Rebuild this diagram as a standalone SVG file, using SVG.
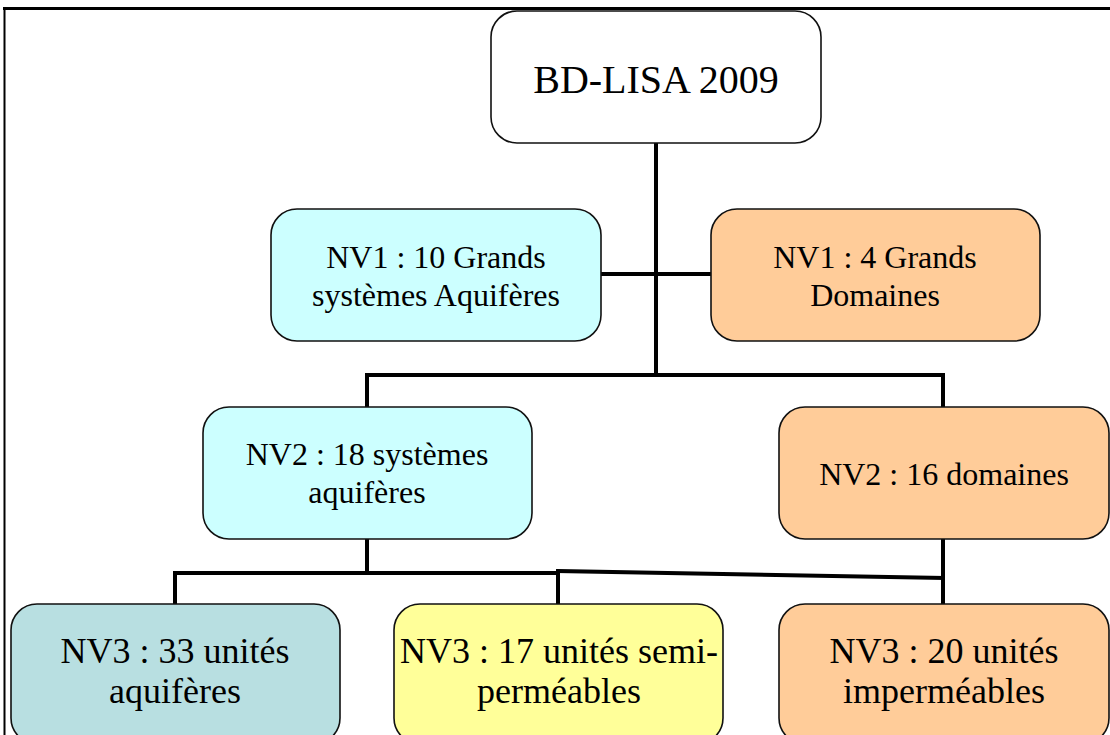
<svg xmlns="http://www.w3.org/2000/svg" width="1110" height="735" viewBox="0 0 1110 735">
<style>
.box{stroke:#111;stroke-width:1.6}
.t{font-family:"Liberation Serif","Times New Roman",serif;fill:#000;text-anchor:middle}
.m{font-size:32px}
.l{font-size:36px}
.c{stroke:#000;stroke-width:4;fill:none;stroke-linecap:square}
</style>
<rect width="1110" height="735" fill="#fff"/>
<g id="frame">
<line x1="3" y1="8.5" x2="1110" y2="8.5" stroke="#000" stroke-width="3"/>
<line x1="4.5" y1="8" x2="4.5" y2="735" stroke="#000" stroke-width="2"/>
</g>
<g id="connectors">
<line class="c" x1="656" y1="143" x2="656" y2="375"/>
<line class="c" x1="601" y1="274" x2="711" y2="274"/>
<polyline class="c" points="367,407 367,375 943,375 943,407"/>
<line class="c" x1="367" y1="539" x2="367" y2="573"/>
<polyline class="c" points="175,604 175,573 558,573 558,604"/>
<line class="c" x1="558" y1="571" x2="943" y2="578"/>
<line class="c" x1="943" y1="539" x2="943" y2="604"/>
</g>
<g id="root">
<rect class="box" x="491" y="11" width="330" height="132" rx="26" fill="#fff"/>
<text class="t" x="656" y="93" font-size="40">BD-LISA 2009</text>
</g>
<g id="nv1-aquiferes">
<rect class="box" x="271" y="209" width="330" height="132" rx="26" fill="#CCFFFF"/>
<text class="t m" x="436" y="268">NV1 : 10 Grands</text>
<text class="t m" x="436" y="306">systèmes Aquifères</text>
</g>
<g id="nv1-domaines">
<rect class="box" x="711" y="209" width="329" height="132" rx="26" fill="#FFCC99"/>
<text class="t m" x="875" y="268">NV1 : 4 Grands</text>
<text class="t m" x="875" y="306">Domaines</text>
</g>
<g id="nv2-aquiferes">
<rect class="box" x="203" y="407" width="329" height="132" rx="26" fill="#CCFFFF"/>
<text class="t m" x="367" y="465">NV2 : 18 systèmes</text>
<text class="t m" x="367" y="503">aquifères</text>
</g>
<g id="nv2-domaines">
<rect class="box" x="779" y="407" width="330" height="132" rx="26" fill="#FFCC99"/>
<text class="t m" x="944" y="485">NV2 : 16 domaines</text>
</g>
<g id="nv3-aquiferes">
<rect class="box" x="11" y="604" width="329" height="140" rx="26" fill="#B8DFE1"/>
<text class="t l" x="175" y="663">NV3 : 33 unités</text>
<text class="t l" x="175" y="703">aquifères</text>
</g>
<g id="nv3-semi">
<rect class="box" x="394" y="604" width="329" height="140" rx="26" fill="#FFFF99"/>
<text class="t l" x="559" y="663">NV3 : 17 unités semi-</text>
<text class="t l" x="559" y="703">perméables</text>
</g>
<g id="nv3-impermeables">
<rect class="box" x="779" y="604" width="330" height="140" rx="26" fill="#FFCC99"/>
<text class="t l" x="944" y="663">NV3 : 20 unités</text>
<text class="t l" x="944" y="703">imperméables</text>
</g>
</svg>
